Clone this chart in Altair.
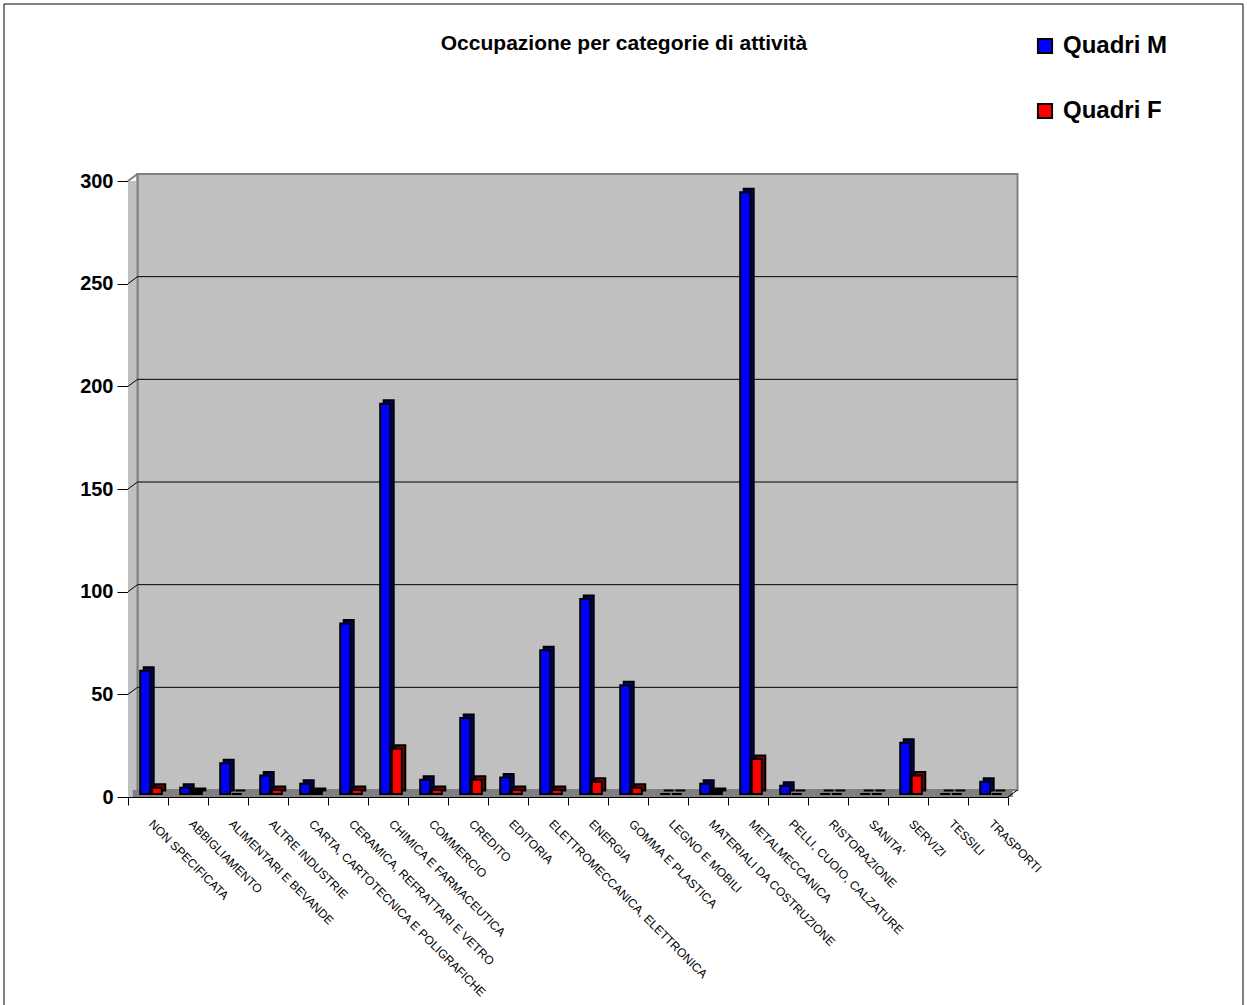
import altair as alt
import pandas as pd

# Categorie di attività e occupazione per genere
categorie = [
    "NON SPECIFICATA", "ABBIGLIAMENTO", "ALIMENTARI E BEVANDE", "ALTRE INDUSTRIE",
    "CARTA, CARTOTECNICA E POLIGRAFICHE", "CERAMICA, REFRATTARI E VETRO",
    "CHIMICA E FARMACEUTICA", "COMMERCIO", "CREDITO", "EDITORIA",
    "ELETTROMECCANICA, ELETTRONICA", "ENERGIA", "GOMMA E PLASTICA", "LEGNO E MOBILI",
    "MATERIALI DA COSTRUZIONE", "METALMECCANICA", "PELLI, CUOIO, CALZATURE",
    "RISTORAZIONE", "SANITA'", "SERVIZI", "TESSILI", "TRASPORTI",
]
quadri_m = [60, 3, 15, 9, 5, 83, 190, 7, 37, 8, 70, 95, 53, 0, 5, 293, 4, 0, 0, 25, 0, 6]
quadri_f = [3, 1, 0, 2, 1, 2, 22, 2, 7, 2, 2, 6, 3, 0, 1, 17, 0, 0, 0, 9, 0, 0]
serie = ["Quadri M", "Quadri F"]
colori_fronte = ["#0000FF", "#FF0000"]
colori_lato = ["#000080", "#800000"]
valori_asse = [0, 50, 100, 150, 200, 250, 300]

df = pd.DataFrame(
    [{"categoria": c, "serie": serie[0], "valore": v} for c, v in zip(categorie, quadri_m)]
    + [{"categoria": c, "serie": serie[1], "valore": v} for c, v in zip(categorie, quadri_f)]
)
griglia = pd.DataFrame({"v": valori_asse[1:-1]})

FONT = "Liberation Sans"
W, H = 880, 616          # plot area (front frame)
DX, DY = 9.5, 7          # depth of the back wall
BX, BY = 3.5, 3.5        # depth of each 3D bar
BAR_W = 10

yscale = alt.Scale(domain=[0, 300], nice=False, zero=True)
xscale = alt.Scale(domain=categorie, paddingInner=0, paddingOuter=0)

x_axis = alt.Axis(
    title=None, domain=True, domainColor="black", domainWidth=1,
    ticks=True, tickColor="black", tickSize=8, tickBand="extent",
    labelAngle=45, labelAlign="left", labelBaseline="top",
    labelFont=FONT, labelFontSize=12, labelColor="black",
    labelPadding=13, labelOffset=6, labelLimit=0, labelOverlap=False,
    labelBound=False, grid=False,
)
y_axis = alt.Axis(
    title=None, values=valori_asse, domain=True, domainColor="black",
    ticks=True, tickColor="black", tickSize=11,
    labelFont=FONT, labelFontSize=20, labelFontWeight="bold", labelColor="black",
    labelPadding=4, grid=False,
)

one = alt.Chart(pd.DataFrame({"k": [0]}))

# back wall
wall = one.mark_rect(
    fill="#C0C0C0", stroke="#808080", strokeWidth=2, yOffset=-DY, y2Offset=-DY
).encode(
    x=alt.value(DX), x2=alt.value(W + DX),
    y=alt.datum(0, scale=yscale, axis=y_axis), y2=alt.datum(300),
)
# left side wall
side = one.mark_rect(fill="#C0C0C0").encode(
    x=alt.value(0), x2=alt.value(DX), y=alt.datum(0), y2=alt.datum(300),
)
side_edge = one.mark_rule(color="#808080", strokeWidth=2, yOffset=-DY, y2Offset=-DY).encode(
    x=alt.value(DX), y=alt.datum(0), y2=alt.datum(300),
)
top_diag = one.mark_rule(color="#808080", strokeWidth=2, y2Offset=-DY).encode(
    x=alt.value(0), x2=alt.value(DX), y=alt.datum(300), y2=alt.datum(300),
)
# gridlines on the back wall and their diagonals on the side wall
grid = alt.Chart(griglia).mark_rule(color="black", strokeWidth=1, yOffset=-DY).encode(
    x=alt.value(DX), x2=alt.value(W + DX), y="v:Q",
)
grid_diag = alt.Chart(griglia).mark_rule(color="black", strokeWidth=1, y2Offset=-DY).encode(
    x=alt.value(0), x2=alt.value(DX), y="v:Q", y2="v:Q",
)
# floor
floor = one.mark_rect(fill="#808080", y2Offset=-DY).encode(
    x=alt.value(DX / 2), x2=alt.value(W + DX / 2), y=alt.datum(0), y2=alt.datum(0),
)
floor_diag = one.mark_rule(color="black", strokeWidth=1).encode(
    x=alt.value(W), x2=alt.value(W + DX), y=alt.value(H), y2=alt.value(H - DY),
)

layers = [wall, side, side_edge, top_diag, grid, grid_diag, floor, floor_diag]

offsets = [-2.8, 8.8]
for i, s in enumerate(serie):
    base = alt.Chart(df).transform_filter(alt.datum.serie == s)
    back = base.mark_bar(
        width=BAR_W, fill=colori_lato[i], stroke="black", strokeWidth=2,
        xOffset=offsets[i] + BX, yOffset=-3 - BY, y2Offset=-3 - BY,
    ).encode(
        x=alt.X("categoria:N", scale=xscale, axis=x_axis),
        y=alt.Y("valore:Q", stack=None),
        y2=alt.datum(0),
    )
    front = base.mark_bar(
        width=BAR_W, stroke="black", strokeWidth=2,
        xOffset=offsets[i], yOffset=-3, y2Offset=-3,
    ).encode(
        x=alt.X("categoria:N", scale=xscale, axis=x_axis),
        y=alt.Y("valore:Q", stack=None),
        y2=alt.datum(0),
        color=alt.Color(
            "serie:N",
            scale=alt.Scale(domain=serie, range=colori_fronte),
            legend=alt.Legend(
                title=None, orient="none", legendX=905, legendY=-147,
                symbolType="square", symbolSize=200, symbolStrokeColor="black",
                symbolStrokeWidth=2, symbolOpacity=1,
                labelFont=FONT, labelFontSize=24, labelFontWeight="bold",
                labelColor="black", labelOffset=6, rowPadding=41, padding=0,
            ),
        ),
    )
    layers += [back, front]

title = one.mark_text(
    text="Occupazione per categorie di attività", font=FONT, fontSize=21,
    fontWeight="bold", color="black", align="center", baseline="alphabetic",
).encode(x=alt.value(496), y=alt.value(-131))

border = one.mark_rect(fill=None, stroke="black", strokeWidth=1).encode(
    x=alt.value(-124), x2=alt.value(1115), y=alt.value(-177), y2=alt.value(834),
)
layers += [title, border]

chart = alt.layer(*layers).properties(
    width=W, height=H,
    autosize=alt.AutoSizeParams(type="none"),
    padding={"left": 128, "top": 181, "right": 239, "bottom": 208},
    background="white",
).configure_view(stroke=None)

chart.save("out.html", embed_options={"renderer": "svg", "actions": False})
